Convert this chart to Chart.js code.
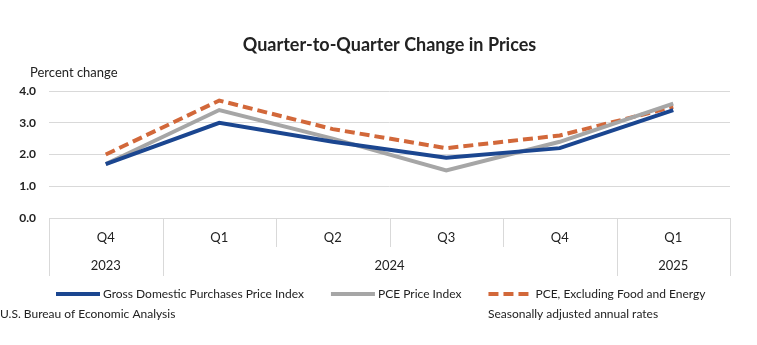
<!DOCTYPE html>
<html>
<head>
<meta charset="utf-8">
<script src="https://cdn.jsdelivr.net/npm/chart.js@4/dist/chart.umd.min.js"></script>
<style>
  html, body { margin: 0; padding: 0; background: #fff; }
  #wrap { width: 757px; height: 345px; position: relative; }
</style>
</head>
<body>
<div id="wrap"><canvas id="pricesChart" width="757" height="345"></canvas></div>
<script>
const quarters = ['Q4', 'Q1', 'Q2', 'Q3', 'Q4', 'Q1'];
const years = ['2023', '2024', '2025'];
const yearSpans = [1, 4, 1];

const grossDomestic = [1.7, 3.0, 2.4, 1.9, 2.2, 3.4];
const pceIndex = [1.7, 3.4, 2.5, 1.5, 2.4, 3.6];
const pceCore = [2.0, 3.7, 2.8, 2.2, 2.6, 3.5];

const FONT = 'Lato, "Noto Sans", sans-serif';
const TEXT = '#222222';
const GRID = '#d9d9d9';

// category boxes under the axis, the year row, legend and notes
const axisBoxes = {
  id: 'axisBoxes',
  afterDraw(chart) {
    const ctx = chart.ctx;
    const x = chart.scales.x;
    const bottom = chart.chartArea.bottom;
    const step = x.width / quarters.length;
    const left = x.getPixelForValue(0) - step / 2;

    ctx.save();
    ctx.strokeStyle = GRID;
    ctx.lineWidth = 1;

    let edge = 0;
    const yearEdges = [0];
    for (let s = 0; s < yearSpans.length; s++) {
      edge += yearSpans[s];
      yearEdges.push(edge);
    }
    for (let i = 0; i <= quarters.length; i++) {
      const px = Math.round(left + i * step) + 0.5;
      const full = yearEdges.indexOf(i) !== -1;
      ctx.beginPath();
      ctx.moveTo(px, bottom);
      ctx.lineTo(px, full ? bottom + 58 : bottom + 29);
      ctx.stroke();
    }

    ctx.fillStyle = TEXT;
    ctx.font = '13px ' + FONT;
    ctx.textAlign = 'center';
    ctx.textBaseline = 'middle';
    for (let s = 0; s < years.length; s++) {
      const mid = left + (yearEdges[s] + yearEdges[s + 1]) / 2 * step;
      ctx.fillText(years[s], mid, bottom + 48);
    }

    // legend: short line sample, then the series name
    ctx.textAlign = 'left';
    ctx.font = '12px ' + FONT;
    let lx = 56;
    const ly = 294;
    chart.data.datasets.forEach(function(ds) {
      ctx.save();
      ctx.strokeStyle = ds.borderColor;
      ctx.lineWidth = 4;
      ctx.setLineDash(ds.borderDash || []);
      ctx.beginPath();
      ctx.moveTo(lx, ly);
      ctx.lineTo(lx + 44, ly);
      ctx.stroke();
      ctx.restore();
      ctx.fillText(ds.label, lx + 47, ly);
      lx += 47 + ctx.measureText(ds.label).width + 27;
    });

    ctx.font = '13px ' + FONT;
    ctx.fillText('Percent change', 30, 73);
    ctx.font = '12px ' + FONT;
    ctx.fillText('U.S. Bureau of Economic Analysis', 0, 314);
    ctx.fillText('Seasonally adjusted annual rates', 488, 314);
    ctx.restore();
  }
};

const chartElement = document.getElementById('pricesChart');
const chart = new Chart(chartElement, {
  type: 'line',
  data: {
    labels: quarters,
    datasets: [
      {
        label: 'Gross Domestic Purchases Price Index',
        data: grossDomestic,
        borderColor: '#1b4690',
        backgroundColor: '#1b4690',
        borderWidth: 4,
        pointRadius: 0,
        tension: 0
      },
      {
        label: 'PCE Price Index',
        data: pceIndex,
        borderColor: '#a6a6a6',
        backgroundColor: '#a6a6a6',
        borderWidth: 4,
        pointRadius: 0,
        tension: 0
      },
      {
        label: 'PCE, Excluding Food and Energy',
        data: pceCore,
        borderColor: '#d2683a',
        backgroundColor: '#d2683a',
        borderWidth: 4,
        borderDash: [10, 5],
        pointRadius: 0,
        tension: 0
      }
    ]
  },
  options: {
    responsive: false,
    animation: false,
    layout: { padding: { top: 0, left: 0, right: 27, bottom: 67 } },
    plugins: {
      title: {
        display: true,
        text: 'Quarter-to-Quarter Change in Prices',
        fullSize: false,
        color: TEXT,
        font: { family: FONT, size: 18, weight: 'bold', lineHeight: 1.2 },
        padding: { top: 34, bottom: 35.4 }
      },
      legend: { display: false },
      tooltip: { enabled: false }
    },
    scales: {
      x: {
        offset: true,
        grid: { display: false },
        border: { display: false },
        afterFit(scale) { scale.height = 60; },
        ticks: {
          padding: 4,
          color: TEXT,
          font: { family: FONT, size: 13 }
        }
      },
      y: {
        min: 0,
        max: 4,
        afterFit(scale) { scale.width = 49; },
        grid: { color: GRID, drawTicks: false },
        border: { display: false },
        ticks: {
          stepSize: 1,
          padding: 13,
          color: TEXT,
          font: { family: FONT, size: 12, weight: 'bold' },
          callback: function(v) { return v.toFixed(1); }
        }
      }
    }
  },
  plugins: [axisBoxes]
});
</script>
</body>
</html>
